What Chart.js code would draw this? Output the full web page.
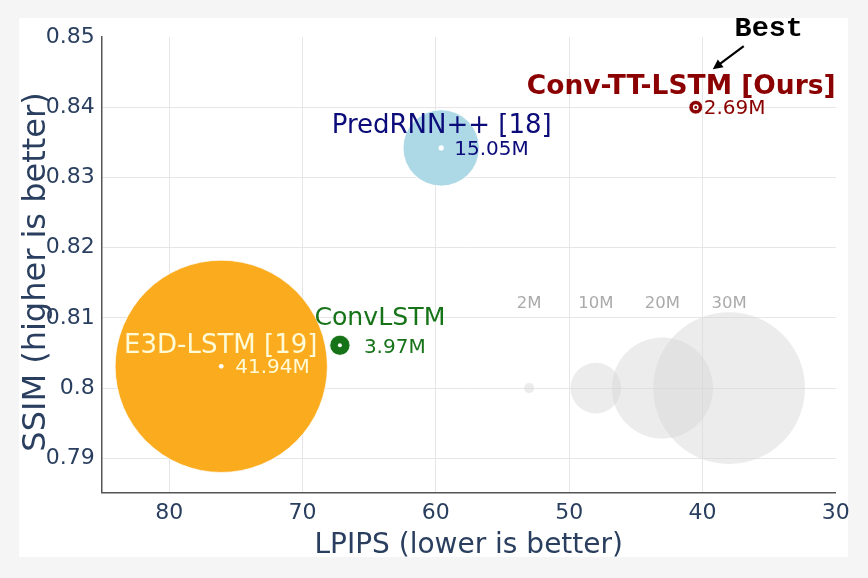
<!DOCTYPE html>
<html>
<head>
<meta charset="utf-8">
<script src="https://cdn.jsdelivr.net/npm/chart.js@4.4.1/dist/chart.umd.min.js"></script>
<style>
html,body{margin:0;padding:0;background:#f5f5f5;}
#wrap{width:868px;height:578px;}
canvas{display:block;}
</style>
</head>
<body>
<div id="wrap"><canvas id="c" width="868" height="578"></canvas></div>
<script>
// ---- data ----
const models = ['Conv-TT-LSTM [Ours]', 'PredRNN++ [18]', 'E3D-LSTM [19]', 'ConvLSTM'];
const lpips = [40.5, 59.6, 76.1, 67.2];
const ssim = [0.8400, 0.8342, 0.8031, 0.8061];
const params = [2.69, 15.05, 41.94, 3.97];
const paramLabels = ['2.69M', '15.05M', '41.94M', '3.97M'];
const refSizes = [2, 10, 20, 30];
const refLabels = ['2M', '10M', '20M', '30M'];
const refLpips = [53, 48, 43, 38];
const refSsim = [0.8, 0.8, 0.8, 0.8];
const xTicks = [80, 70, 60, 50, 40, 30];
const yTicks = [0.79, 0.80, 0.81, 0.82, 0.83, 0.84, 0.85];
const yTickLabels = ['0.79', '0.8', '0.81', '0.82', '0.83', '0.84', '0.85'];
const xTitle = 'LPIPS (lower is better)';
const yTitle = 'SSIM (higher is better)';
const bestLabel = 'Best';

// ---- styles ----
const FONT = "'DejaVu Sans', Verdana, sans-serif";
const AXIS_COLOR = '#2a3f5f';
const PX_PER_M = 2.53;
const modelColors = ['#8b0000', '#add8e6', '#fbab1e', '#167318'];
const nameColors = ['#8b0000', '#0b0b7a', '#fffbd6', '#167318'];
const paramColors = ['#8b0000', '#0b0b7a', '#fffbd6', '#167318'];
const nameFonts = ['bold 26.5px ', '26px ', '26px ', '25.2px '];
const centerFill = ['#8b0000', '#ffffff', '#ffffff', '#ffffff'];
const centerR = [2.2, 2.6, 2.4, 2];
const centerBorder = [1.4, 0, 0, 0];

const modelData = lpips.map((x, i) => ({x: x, y: ssim[i], r: params[i] * PX_PER_M}));
const centerData = lpips.map((x, i) => ({x: x, y: ssim[i], r: centerR[i]}));
const refData = refLpips.map((x, i) => ({x: x, y: refSsim[i], r: refSizes[i] * PX_PER_M}));

const bgPlugin = {
  id: 'bg',
  beforeDraw(chart) {
    const c = chart.ctx;
    c.save();
    c.fillStyle = '#f5f5f5';
    c.fillRect(0, 0, chart.width, chart.height);
    c.fillStyle = '#ffffff';
    c.fillRect(19, 18, 848 - 19, 557 - 18);
    c.restore();
  }
};

function txt(c, s, x, y, font, color, align) {
  c.font = font;
  c.fillStyle = color;
  c.textAlign = align || 'left';
  c.textBaseline = 'alphabetic';
  c.fillText(s, x, y);
}

// label placement offsets (pixels from the point centre)
const nameOffsets = [[-14.5, -13.3], [0.5, -15], [-0.5, -13], [40, -20]];
const paramOffsets = [[8, 7], [13, 7], [14, 7], [24, 8]];

const textPlugin = {
  id: 'texts',
  afterDraw(chart) {
    const c = chart.ctx;
    const xs = chart.scales.x, ys = chart.scales.y;
    const a = chart.chartArea;
    c.save();
    refLabels.forEach((s, i) => {
      const px = xs.getPixelForValue(refLpips[i]);
      const py = ys.getPixelForValue(refSsim[i]);
      txt(c, s, px, py - 80, '16.5px ' + FONT, '#aaaaaa', 'center');
    });
    models.forEach((s, i) => {
      const px = xs.getPixelForValue(lpips[i]);
      const py = ys.getPixelForValue(ssim[i]);
      txt(c, s, px + nameOffsets[i][0], py + nameOffsets[i][1], nameFonts[i] + FONT, nameColors[i], 'center');
      txt(c, paramLabels[i], px + paramOffsets[i][0], py + paramOffsets[i][1], '20px ' + FONT, paramColors[i], 'left');
    });
    const bx = xs.getPixelForValue(lpips[0]);
    const by = ys.getPixelForValue(ssim[0]);
    txt(c, bestLabel, bx + 73, by - 71, "bold 28.5px 'Liberation Mono', 'Courier New', monospace", '#000000', 'center');
    const tx = bx + 48, ty = by - 61, hx = bx + 17, hy = by - 38;
    const ang = Math.atan2(hy - ty, hx - tx);
    const hl = 11;
    c.strokeStyle = '#000';
    c.lineWidth = 2.2;
    c.beginPath();
    c.moveTo(tx, ty);
    c.lineTo(hx - Math.cos(ang) * hl * 0.7, hy - Math.sin(ang) * hl * 0.7);
    c.stroke();
    c.fillStyle = '#000';
    c.beginPath();
    c.moveTo(hx, hy);
    c.lineTo(hx - hl * Math.cos(ang - 0.45), hy - hl * Math.sin(ang - 0.45));
    c.lineTo(hx - hl * Math.cos(ang + 0.45), hy - hl * Math.sin(ang + 0.45));
    c.closePath();
    c.fill();
    txt(c, xTitle, (a.left + a.right) / 2, 553.3, '28px ' + FONT, AXIS_COLOR, 'center');
    c.save();
    c.translate(45, 272);
    c.rotate(-Math.PI / 2);
    txt(c, yTitle, 0, 0, '32px ' + FONT, AXIS_COLOR, 'center');
    c.restore();
    c.restore();
  }
};

const gridColor = (edge) => (ctx) => (ctx.tick && Math.abs(ctx.tick.value - edge) < 1e-9) ? 'rgba(0,0,0,0)' : '#e6e6e6';

new Chart(document.getElementById('c'), {
  type: 'bubble',
  data: {
    datasets: [
      {
        label: 'centers',
        data: centerData,
        backgroundColor: centerFill,
        borderColor: '#ffffff',
        borderWidth: centerBorder
      },
      {
        label: 'models',
        data: modelData,
        backgroundColor: modelColors,
        borderColor: 'rgba(255,255,255,0.7)',
        borderWidth: 1
      },
      {
        label: 'reference sizes',
        data: refData,
        backgroundColor: 'rgba(215,215,215,0.47)',
        borderWidth: 0
      }
    ]
  },
  options: {
    responsive: false,
    animation: false,
    devicePixelRatio: 1,
    events: [],
    layout: {autoPadding: false, padding: {left: 0, top: 37, right: 868 - 835.7, bottom: 0}},
    plugins: {legend: {display: false}, tooltip: {enabled: false}},
    scales: {
      x: {
        type: 'linear',
        min: 30,
        max: 85.07,
        reverse: true,
        afterBuildTicks: (s) => { s.ticks = xTicks.map(v => ({value: v})); },
        afterFit: (s) => { s.height = 578 - 492.3; },
        grid: {color: gridColor(30), lineWidth: 1, drawTicks: false},
        border: {display: true, color: '#555555', width: 1.5},
        ticks: {
          font: {family: FONT, size: 22},
          color: AXIS_COLOR,
          padding: 8,
          maxRotation: 0,
          autoSkip: false,
          callback: (v) => String(v)
        }
      },
      y: {
        type: 'linear',
        min: 0.78516,
        max: 0.85,
        afterBuildTicks: (s) => { s.ticks = yTicks.map(v => ({value: v})); },
        afterFit: (s) => { s.width = 101.7; },
        grid: {color: gridColor(0.85), lineWidth: 1, drawTicks: false},
        border: {display: true, color: '#555555', width: 1.5},
        ticks: {
          font: {family: FONT, size: 22},
          color: AXIS_COLOR,
          padding: 7,
          autoSkip: false,
          callback: (v, i) => yTickLabels[i]
        }
      }
    }
  },
  plugins: [bgPlugin, textPlugin]
});
</script>
</body>
</html>
